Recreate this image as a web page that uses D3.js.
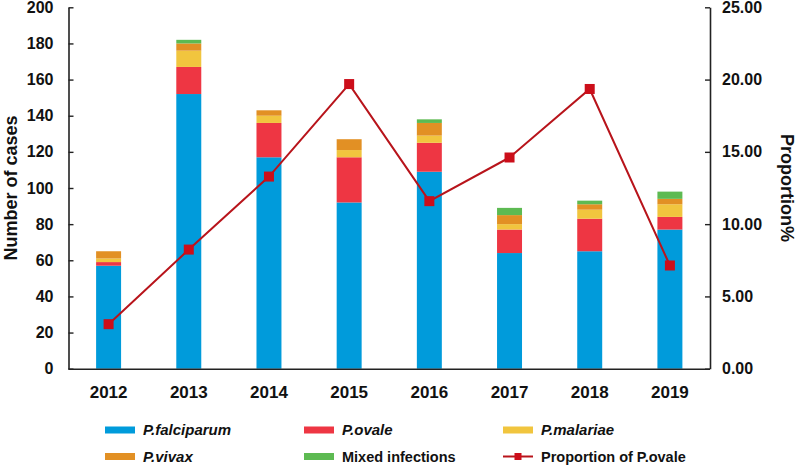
<!DOCTYPE html>
<html>
<head>
<meta charset="utf-8">
<script src="https://cdn.jsdelivr.net/npm/d3@7"></script>
<style>
  body { margin: 0; background: #fff; }
  svg text { font-family: "Liberation Sans", Arial, sans-serif; }
</style>
</head>
<body>
<svg id="chart" width="797" height="466"></svg>
<script>
const years = ["2012", "2013", "2014", "2015", "2016", "2017", "2018", "2019"];
const falciparum = [57, 152, 117, 92, 109, 64, 65, 77];
const ovale      = [2, 15, 19, 25, 16, 13, 18, 7];
const malariae   = [2, 9, 4, 4, 4, 3, 5, 7];
const vivax      = [4, 4, 3, 6, 7, 5, 3, 3];
const mixed      = [0, 2, 0, 0, 2, 4, 2, 4];
const proportion = [3.08, 8.24, 13.29, 19.69, 11.59, 14.61, 19.35, 7.14];
const leftTicks = [0, 20, 40, 60, 80, 100, 120, 140, 160, 180, 200];
const rightTicks = [0, 5, 10, 15, 20, 25];

const seriesNames = ["P.falciparum", "P.ovale", "P.malariae", "P.vivax", "Mixed infections"];
const seriesData = [falciparum, ovale, malariae, vivax, mixed];
const colors = ["#009BDB", "#EE3643", "#F1C53E", "#E29024", "#5DBA52"];
const lineColor = "#B8141B";
const markerColor = "#CC0E1A";

const svg = d3.select("#chart");
const L = 68.5, R = 710, T = 7.3, B = 368.7;

const x = d3.scaleBand().domain(years).range([L, R]).paddingInner(0.6885).paddingOuter(0.6885 / 2);
const y = d3.scaleLinear().domain([0, 200]).range([B, T]);
const y2 = d3.scaleLinear().domain([0, 25]).range([B, T]);

const table = years.map((yr, i) => {
  const o = { year: yr };
  seriesNames.forEach((s, k) => o[s] = seriesData[k][i]);
  return o;
});
const stacked = d3.stack().keys(seriesNames)(table);

svg.append("g").selectAll("g").data(stacked).join("g")
  .attr("fill", (d, i) => colors[i])
  .selectAll("rect").data(d => d).join("rect")
  .attr("x", d => x(d.data.year))
  .attr("width", x.bandwidth())
  .attr("y", d => y(d[1]))
  .attr("height", d => y(d[0]) - y(d[1]));

// axes
const axisColor = "#222";
const gl = svg.append("g").attr("transform", `translate(${L},0)`)
  .call(d3.axisLeft(y).tickValues(leftTicks).tickSizeInner(-5).tickSizeOuter(0).tickPadding(15));
const gr = svg.append("g").attr("transform", `translate(${R},0)`)
  .call(d3.axisRight(y2).tickValues(rightTicks).tickSizeInner(-5).tickSizeOuter(0).tickPadding(12).tickFormat(d3.format(".2f")));
const gx = svg.append("g").attr("transform", `translate(0,${B})`)
  .call(d3.axisBottom(x).tickSize(0).tickPadding(17));
[gl, gr, gx].forEach(g => {
  g.selectAll("path").attr("stroke", axisColor).attr("stroke-width", 1.6);
  g.selectAll("line").attr("stroke", axisColor).attr("stroke-width", 1.4);
  g.selectAll("text").attr("fill", "#111").style("font-size", "16px").style("font-weight", "bold");
});
gx.selectAll("text").style("font-size", "17px");
gx.select(".domain").attr("d", `M${L},0.5H${R}`);

// line
const line = d3.line().x((d, i) => x(years[i]) + x.bandwidth() / 2).y(d => y2(d));
svg.append("path").datum(proportion).attr("d", line)
  .attr("fill", "none").attr("stroke", lineColor).attr("stroke-width", 2);
svg.append("g").selectAll("rect").data(proportion).join("rect")
  .attr("x", (d, i) => x(years[i]) + x.bandwidth() / 2 - 5)
  .attr("y", d => y2(d) - 5)
  .attr("width", 10).attr("height", 10)
  .attr("fill", markerColor);

// axis titles
svg.append("text").attr("transform", `translate(17,${(T + B) / 2}) rotate(-90)`)
  .attr("text-anchor", "middle").style("font-size", "18px").style("font-weight", "bold").attr("fill", "#111")
  .text("Number of cases");
svg.append("text").attr("transform", `translate(781,${(T + B) / 2}) rotate(90)`)
  .attr("text-anchor", "middle").style("font-size", "18px").style("font-weight", "bold").attr("fill", "#111")
  .text("Proportion%");

// legend
const legendItems = [
  { name: "P.falciparum", color: colors[0], italic: true, col: 0, row: 0 },
  { name: "P.ovale", color: colors[1], italic: true, col: 1, row: 0 },
  { name: "P.malariae", color: colors[2], italic: true, col: 2, row: 0 },
  { name: "P.vivax", color: colors[3], italic: true, col: 0, row: 1 },
  { name: "Mixed infections", color: colors[4], italic: false, col: 1, row: 1 },
  { name: "Proportion of P.ovale", line: true, col: 2, row: 1 }
];
const colX = [105, 304, 503];
const rowY = [430, 456.5];
const lg = svg.append("g");
legendItems.forEach(it => {
  const gx0 = colX[it.col], gy = rowY[it.row];
  if (it.line) {
    lg.append("line").attr("x1", gx0).attr("x2", gx0 + 30).attr("y1", gy).attr("y2", gy)
      .attr("stroke", lineColor).attr("stroke-width", 2);
    lg.append("rect").attr("x", gx0 + 11.5).attr("y", gy - 3.5).attr("width", 7).attr("height", 7).attr("fill", markerColor);
  } else {
    lg.append("rect").attr("x", gx0).attr("y", gy - 3.5).attr("width", 30).attr("height", 7).attr("fill", it.color);
  }
  lg.append("text").attr("x", gx0 + 38).attr("y", gy).attr("dy", "0.35em")
    .style("font-size", it.italic ? "15px" : "14.5px").style("font-weight", "bold").attr("fill", "#111")
    .style("font-style", it.italic ? "italic" : "normal")
    .text(it.name);
});
</script>
</body>
</html>
